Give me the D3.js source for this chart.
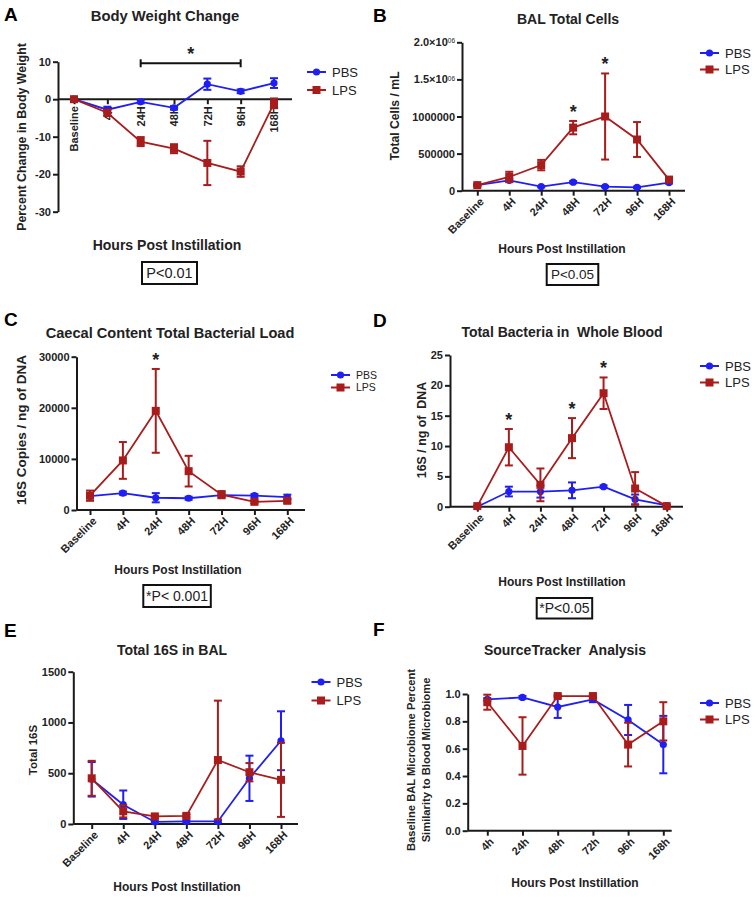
<!DOCTYPE html>
<html><head><meta charset="utf-8">
<script src="https://cdn.jsdelivr.net/npm/d3@7"></script>
<style>
body{margin:0;background:#fff;}
svg{display:block;font-family:"Liberation Sans",Arial,sans-serif;}
text{white-space:pre;}
</style></head>
<body><svg id="c" width="755" height="897"></svg>
<script>
// ---------- data ----------
const cats = ["Baseline","4H","24H","48H","72H","96H","168H"];
const catsF = ["4h","24h","48h","72h","96h","168h"];
const seriesNames = ["PBS","LPS"];

const aPbsMean = [0,-2.8,-0.7,-2.3,4.0,2.1,4.3];
const aPbsErr  = [0.3,0.8,0.4,0.5,1.5,0.5,1.3];
const aLpsMean = [0,-3.6,-11.3,-13.2,-17.0,-19.3,-1.1];
const aLpsErr  = [0.3,0.8,1.2,1.2,5.9,1.4,1.3];
const aTicks = [-30,-20,-10,0,10];

const bPbsMean = [75000,140000,55000,115000,55000,45000,110000];
const bPbsErr  = [10000,18000,10000,14000,10000,10000,14000];
const bLpsMean = [75000,185000,345000,850000,1000000,690000,150000];
const bLpsErr  = [15000,70000,70000,90000,580000,235000,35000];
const bTicks = [0,500000,1000000,1500000,2000000];

const cPbsMean = [2700,3300,2400,2300,2900,2800,2500];
const cPbsErr  = [400,300,900,300,300,300,500];
const cLpsMean = [2800,9700,19400,7600,3000,1600,1800];
const cLpsErr  = [1000,3600,8200,3000,700,300,400];
const cTicks = [0,10000,20000,30000];

const dPbsMean = [0,2.5,2.5,2.7,3.3,1.2,0.2];
const dPbsErr  = [0.1,0.8,1.0,1.3,0.2,0.8,0.1];
const dLpsMean = [0.1,9.8,3.6,11.3,18.7,3.0,0.1];
const dLpsErr  = [0.1,3.0,2.7,3.3,2.6,2.7,0.1];
const dTicks = [0,5,10,15,20,25];

const ePbsMean = [440,190,20,25,25,450,820];
const ePbsErr  = [170,140,10,10,10,223,290];
const eLpsMean = [450,125,75,80,630,510,435];
const eLpsErr  = [172,60,15,15,585,90,365];
const eTicks = [0,500,1000,1500];

const fPbsMean = [0.96,0.975,0.905,0.96,0.81,0.63];
const fPbsErr  = [0.01,0.01,0.08,0.02,0.11,0.21];
const fLpsMean = [0.94,0.62,0.985,0.985,0.63,0.80];
const fLpsErr  = [0.055,0.21,0.01,0.01,0.16,0.14];
const fTicks = [0,0.2,0.4,0.6,0.8,1.0];

// ---------- styling ----------
const BLUE = "#1f1ff5", RED = "#a81c1c", AX = "#1a1a1a";
const FONT = "'Liberation Sans',Arial,sans-serif";
const svg = d3.select("#c");

function panel(o){
  const g = svg.append("g");
  const x = d3.scalePoint().domain(o.cats).range([o.x0,o.x1]);
  const y = d3.scaleLinear().domain(o.ydom).range(o.yrange);
  const axisY = y(o.axisAt||0);
  g.append("text").attr("x",o.letter[1]).attr("y",o.letter[2]).text(o.letter[0])
    .attr("font-size",19).attr("font-weight","bold").attr("fill","#000");
  g.append("text").attr("x",o.title[1]).attr("y",o.title[2]).attr("text-anchor","middle")
    .attr("font-size",o.titleSize||14).attr("font-weight","bold").attr("fill","#222").text(o.title[0]);
  // y axis
  const ya = d3.axisLeft(y).tickValues(o.ticks).tickSize(5).tickSizeOuter(0).tickFormat(o.fmt||(d=>d));
  const yg = g.append("g").attr("transform",`translate(${o.ax},0)`).call(ya);
  yg.select(".domain").attr("stroke",AX).attr("stroke-width",2);
  yg.selectAll(".tick line").attr("stroke",AX).attr("stroke-width",2);
  yg.selectAll(".tick text").attr("font-size",o.tickSize||11).attr("font-weight","bold")
    .attr("fill","#222").attr("font-family",FONT).attr("x",-7);
  if(o.sup){
    yg.selectAll(".tick text").each(function(d){
      const s = o.sup(d); if(!s) return;
      const t = d3.select(this); t.text(null);
      t.append("tspan").text(s[0]);
      t.append("tspan").text(s[1]).attr("dy","-0.45em").attr("font-size",6.5).attr("font-weight","normal");
    });
  }
  // x axis
  const xa = d3.axisBottom(x).tickSize(5).tickSizeOuter(0);
  const xg = g.append("g").attr("transform",`translate(0,${axisY})`).call(xa);
  xg.select(".domain").attr("d",`M${o.ax},0H${o.xend}`).attr("stroke",AX).attr("stroke-width",2);
  xg.selectAll(".tick line").attr("stroke",AX).attr("stroke-width",2);
  const tt = xg.selectAll(".tick text").attr("font-size",o.xtickSize||11).attr("font-weight","bold")
    .attr("fill","#222").attr("font-family",FONT).attr("text-anchor","end");
  if(o.rot===-90){
    tt.attr("y",0).attr("dy","0.35em").attr("transform","translate(0,7) rotate(-90)");
  } else {
    tt.attr("y",0).attr("dy","0.35em").attr("transform","translate(4,9) rotate(-45)");
  }
  // y label
  const yl = g.append("text").attr("transform",`translate(${o.ylab[1]},${o.ylab[2]}) rotate(-90)`)
    .attr("text-anchor","middle").attr("font-size",o.ylabSize||12).attr("font-weight","bold").attr("fill","#222");
  o.ylab[0].forEach((l,i)=>yl.append("tspan").attr("x",0).attr("dy",i===0?0:"1.3em").text(l));
  // x label
  g.append("text").attr("x",o.xlab[0]).attr("y",o.xlab[1]).attr("text-anchor","middle")
    .attr("font-size",o.xlabSize||12).attr("font-weight","bold").attr("fill","#222").text("Hours Post Instillation");
  // series
  const series = [
    {name:seriesNames[0],mean:o.pbs[0],err:o.pbs[1],color:BLUE,shape:"circle"},
    {name:seriesNames[1],mean:o.lps[0],err:o.lps[1],color:RED,shape:"square"}
  ];
  series.forEach(s=>{
    const pts = o.cats.map((c,i)=>({c,m:s.mean[i],e:s.err[i]}));
    g.append("path").datum(pts).attr("fill","none").attr("stroke",s.color).attr("stroke-width",1.8)
      .attr("d",d3.line().x(d=>x(d.c)).y(d=>y(d.m)));
    const eb = g.append("g").attr("stroke",s.color).attr("stroke-width",2);
    pts.forEach(d=>{
      const yt=y(d.m+d.e), yb=y(d.m-d.e), cx=x(d.c);
      eb.append("line").attr("x1",cx).attr("x2",cx).attr("y1",yt).attr("y2",yb);
      eb.append("line").attr("x1",cx-4).attr("x2",cx+4).attr("y1",yt).attr("y2",yt);
      eb.append("line").attr("x1",cx-4).attr("x2",cx+4).attr("y1",yb).attr("y2",yb);
    });
    pts.forEach(d=>{
      if(s.shape==="circle") g.append("circle").attr("cx",x(d.c)).attr("cy",y(d.m)).attr("r",3.6).attr("fill",s.color);
      else g.append("rect").attr("x",x(d.c)-4).attr("y",y(d.m)-4).attr("width",8).attr("height",8).attr("fill",s.color);
    });
  });
  (o.stars||[]).forEach(c=>{
    const i = o.cats.indexOf(c);
    g.append("text").attr("x",x(c)).attr("y",y(o.lps[0][i]+o.lps[1][i])-3).attr("text-anchor","middle")
      .attr("font-size",18).attr("font-weight","bold").attr("fill","#222").text("*");
  });
  // legend
  const [lx,ly,gap,lsize] = o.legend;
  series.forEach((s,i)=>{
    const yy = ly+i*gap;
    g.append("line").attr("x1",lx).attr("x2",lx+19).attr("y1",yy).attr("y2",yy).attr("stroke",s.color).attr("stroke-width",2);
    if(s.shape==="circle") g.append("circle").attr("cx",lx+9.5).attr("cy",yy).attr("r",3.6).attr("fill",s.color);
    else g.append("rect").attr("x",lx+5.5).attr("y",yy-4).attr("width",8).attr("height",8).attr("fill",s.color);
    g.append("text").attr("x",lx+25).attr("y",yy).attr("dy","0.36em").attr("font-size",lsize||13)
      .attr("fill","#222").text(s.name);
  });
  if(o.box){
    const [bx,by,bw,bh,txt,fs] = o.box;
    g.append("rect").attr("x",bx).attr("y",by).attr("width",bw).attr("height",bh)
      .attr("fill","none").attr("stroke","#111").attr("stroke-width",2);
    g.append("text").attr("x",bx+bw/2).attr("y",by+bh/2).attr("dy","0.36em").attr("text-anchor","middle")
      .attr("font-size",fs||14).attr("fill","#222").text(txt);
  }
  return {g,x,y};
}

// A
const A = panel({cats,x0:74,x1:274,xend:292,ax:58,ydom:[-30,10],yrange:[211.7,61.7],ticks:aTicks,axisAt:0,
  rot:-90,letter:["A",4,21],title:["Body Weight Change",165,21],titleSize:14.8,
  ylab:[["Percent Change in Body Weight"],26,137],ylabSize:12.4,xlab:[167,250],xlabSize:14,
  pbs:[aPbsMean,aPbsErr],lps:[aLpsMean,aLpsErr],legend:[307,72,18,13],
  box:[142,262,55,22,"P<0.01",14.5]});
(function(){
  const x=A.x, g=A.g, yb=63.3;
  g.append("path").attr("d",`M${x("24H")},${yb-4}V${yb+4}M${x("24H")},${yb}H${x("96H")}M${x("96H")},${yb-4}V${yb+4}`)
    .attr("stroke","#111").attr("stroke-width",2).attr("fill","none");
  g.append("text").attr("x",(x("24H")+x("96H"))/2).attr("y",yb-3).attr("text-anchor","middle")
    .attr("font-size",18).attr("font-weight","bold").attr("fill","#222").text("*");
})();

// B
panel({cats,x0:477.3,x1:669,xend:685,ax:462,ydom:[0,2000000],yrange:[190.7,42.3],ticks:bTicks,
  sup:d=>d===1500000?["1.5×10","06"]:d===2000000?["2.0×10","06"]:null,
  letter:["B",373,22],title:["BAL Total Cells",568,24],titleSize:14,
  ylab:[["Total Cells / mL"],399,116],ylabSize:12.2,xlab:[562,253],
  pbs:[bPbsMean,bPbsErr],lps:[bLpsMean,bLpsErr],legend:[700,53,16.5,13],stars:["48H","72H"],
  box:[546.7,264,51.6,21,"P<0.05",13.5]});

// C
panel({cats,x0:90,x1:287.3,xend:305,ax:76.5,ydom:[0,30000],yrange:[510,356.7],ticks:cTicks,
  letter:["C",4,326],title:["Caecal Content Total Bacterial Load",170,338],titleSize:14.6,
  ylab:[["16S Copies / ng of DNA"],26,430],ylabSize:13.5,xlab:[178,574],
  pbs:[cPbsMean,cPbsErr],lps:[cLpsMean,cLpsErr],legend:[331,375,12.5,10.5],stars:["24H"],
  box:[143.3,585,67.5,22,"*P< 0.001",14]});

// D
panel({cats,x0:477.3,x1:666.7,xend:683,ax:450,ydom:[0,25],yrange:[506.7,355],ticks:dTicks,
  letter:["D",373,327],title:["Total Bacteria in  Whole Blood",562,337],titleSize:14,
  ylab:[["16S / ng of  DNA"],426,430],ylabSize:12.4,xlab:[562,586],
  pbs:[dPbsMean,dPbsErr],lps:[dLpsMean,dLpsErr],legend:[700,366,16.5,13],stars:["4H","48H","72H"],
  box:[536.7,598,55.5,20.5,"*P<0.05",14]});

// E
panel({cats,x0:91.7,x1:281,xend:298,ax:73.3,ydom:[0,1500],yrange:[824,671.7],ticks:eTicks,
  letter:["E",4,637],title:["Total 16S in BAL",172,655],titleSize:14,
  ylab:[["Total 16S"],37,750],ylabSize:11.5,xlab:[177,891],
  pbs:[ePbsMean,ePbsErr],lps:[eLpsMean,eLpsErr],legend:[311.5,682,18.5,13]});

// F
panel({cats:catsF,x0:487.3,x1:663.3,xend:671.7,ax:467.7,ydom:[0,1],yrange:[830.7,694],ticks:fTicks,
  fmt:d3.format(".1f"),
  letter:["F",373,636],title:["SourceTracker  Analysis",565,655],titleSize:14,
  ylab:[["Baseline BAL Microbiome Percent","Similarity to Blood Microbiome"],415,760],ylabSize:11.2,xlab:[575,887],
  pbs:[fPbsMean,fPbsErr],lps:[fLpsMean,fLpsErr],legend:[700,703,16.5,13]});
</script></body></html>
